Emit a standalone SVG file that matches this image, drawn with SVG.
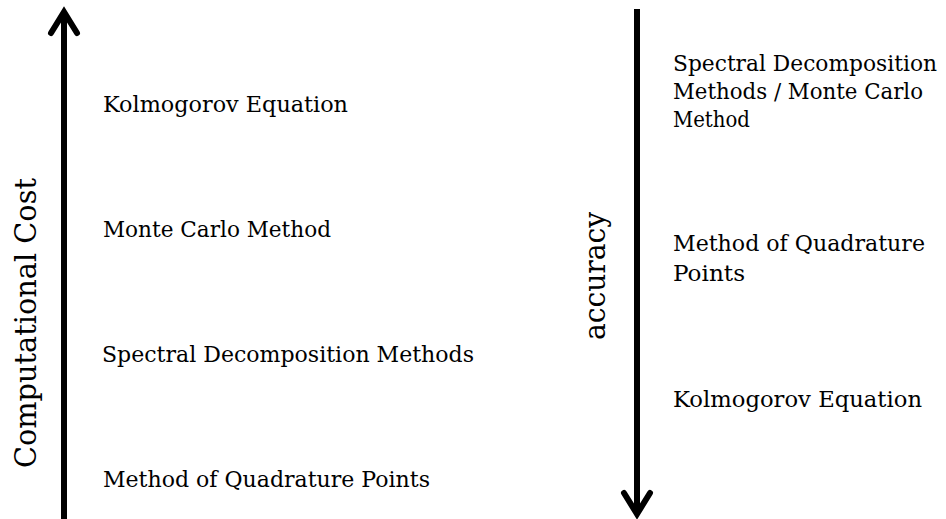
<svg xmlns="http://www.w3.org/2000/svg" width="946" height="519" viewBox="0 0 946 519">
<style>
.t{font-family:"DejaVu Serif","Liberation Serif",serif;font-size:21.5px;fill:#000}
.ax{font-family:"DejaVu Serif","Liberation Serif",serif;font-size:30px;fill:#000}
.ln{stroke:#000;stroke-width:6;fill:none;stroke-linecap:butt}
.hd{stroke:#000;stroke-width:6;fill:none;stroke-linecap:round;stroke-linejoin:miter}
</style>
<rect width="946" height="519" fill="#fff"/>
<g id="connectors">
<line class="ln" x1="64" y1="519" x2="64" y2="13"/>
<polyline class="hd" points="51,33 64,12 77,33"/>
<line class="ln" x1="637" y1="9" x2="637" y2="513"/>
<polyline class="hd" points="624,493 637,514 650,493"/>
</g>
<g id="axis-cost"><text class="ax" transform="translate(36,468) rotate(-90)" textLength="290" lengthAdjust="spacingAndGlyphs">Computational Cost</text></g>
<g id="axis-accuracy"><text class="ax" transform="translate(605,340) rotate(-90)" textLength="128" lengthAdjust="spacingAndGlyphs">accuracy</text></g>
<g id="left-kolmogorov"><text class="t" x="103" y="112" textLength="245" lengthAdjust="spacingAndGlyphs">Kolmogorov Equation</text></g>
<g id="left-montecarlo"><text class="t" x="103" y="237" textLength="228" lengthAdjust="spacingAndGlyphs">Monte Carlo Method</text></g>
<g id="left-spectral"><text class="t" x="102" y="362" textLength="372" lengthAdjust="spacingAndGlyphs">Spectral Decomposition Methods</text></g>
<g id="left-quadrature"><text class="t" x="103" y="487" textLength="327" lengthAdjust="spacingAndGlyphs">Method of Quadrature Points</text></g>
<g id="right-spectral-montecarlo"><text class="t"><tspan x="673" y="71" textLength="264" lengthAdjust="spacingAndGlyphs">Spectral Decomposition</tspan><tspan x="673" y="99" textLength="250" lengthAdjust="spacingAndGlyphs">Methods / Monte Carlo</tspan><tspan x="673" y="127" textLength="77" lengthAdjust="spacingAndGlyphs">Method</tspan></text></g>
<g id="right-quadrature"><text class="t"><tspan x="673" y="251" textLength="252" lengthAdjust="spacingAndGlyphs">Method of Quadrature</tspan><tspan x="673" y="281" textLength="72" lengthAdjust="spacingAndGlyphs">Points</tspan></text></g>
<g id="right-kolmogorov"><text class="t" x="673" y="407" textLength="249" lengthAdjust="spacingAndGlyphs">Kolmogorov Equation</text></g>
</svg>
